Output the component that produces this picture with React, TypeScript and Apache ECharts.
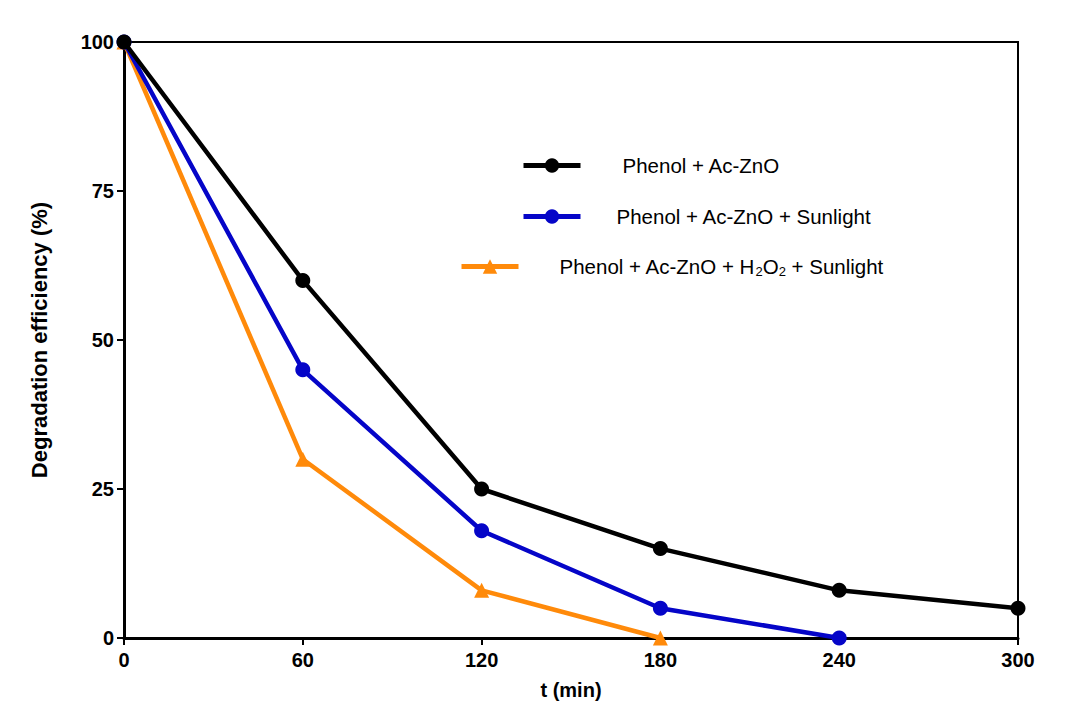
import React, { useEffect, useRef } from "react";
import * as echarts from "echarts";

const times = [0, 60, 120, 180, 240, 300];
const phenolAcZnO = [100, 60, 25, 15, 8, 5];
const phenolAcZnOSun = [100, 45, 18, 5, 0];
const phenolAcZnOH2O2Sun = [100, 30, 8, 0];
const yTicks = [0, 25, 50, 75, 100];

const names = [
  "Phenol + Ac-ZnO",
  "Phenol + Ac-ZnO + Sunlight",
  "Phenol + Ac-ZnO + H2O2 + Sunlight",
];

const BLACK = "#000000";
const BLUE = "#0505c8";
const ORANGE = "#ff8a0a";
const FONT = "'Liberation Sans', Arial, sans-serif";

export default function App() {
  const ref = useRef<HTMLDivElement>(null);
  useEffect(() => {
    const chart = echarts.init(ref.current!, null, { renderer: "svg" });
    const pair = (vals: number[]) => vals.map((v, i) => [times[i], v]);
    const legendBase = {
      itemWidth: 57,
      itemHeight: 18,
      padding: 0,
      orient: "horizontal",
      selectedMode: false,
      lineStyle: { width: 5 },
    };
    const txt = { fontFamily: FONT, fontSize: 20, color: "#000" };
    const ltxt = { fontFamily: FONT, fontSize: 20.5, color: "#000" };
    chart.setOption({
      animation: false,
      backgroundColor: "#fff",
      grid: {
        left: 124,
        right: 54,
        top: 42,
        bottom: 67,
        show: true,
        borderColor: "#000",
        borderWidth: 2,
        containLabel: false,
      },
      legend: [
        {
          ...legendBase,
          data: [names[0]],
          left: 521,
          top: 155,
          textStyle: { ...ltxt, padding: [0, 0, 0, 37] },
        },
        {
          ...legendBase,
          data: [names[1]],
          left: 521,
          top: 206,
          textStyle: { ...ltxt, padding: [0, 0, 0, 31] },
        },
        {
          ...legendBase,
          data: [names[2]],
          left: 459,
          top: 255,
          formatter: () => "{a|Phenol + Ac-ZnO + H}{s|2}{a|O}{s|2}{a| + Sunlight}",
          textStyle: {
            ...ltxt,
            padding: [0, 0, 0, 36],
            rich: {
              a: { fontFamily: FONT, fontSize: 20.5, color: "#000", lineHeight: 22 },
              s: {
                fontFamily: FONT,
                fontSize: 13,
                color: "#000",
                lineHeight: 22,
                padding: [10, 0, 0, 0],
              },
            },
          },
        },
      ],
      xAxis: {
        type: "value",
        min: 0,
        max: 300,
        interval: 60,
        name: "t (min)",
        nameLocation: "middle",
        nameGap: 42,
        nameTextStyle: { ...txt, fontWeight: "bold" },
        axisLine: { show: true, lineStyle: { color: "#000", width: 3 } },
        axisTick: { show: true, inside: false, length: 7, lineStyle: { color: "#000", width: 2 } },
        axisLabel: { ...txt, fontWeight: "bold", margin: 12 },
        splitLine: { show: false },
      },
      yAxis: {
        type: "value",
        min: 0,
        max: 100,
        interval: 25,
        name: "Degradation efficiency (%)",
        nameLocation: "middle",
        nameGap: 74,
        nameTextStyle: { ...txt, fontSize: 22, fontWeight: "bold" },
        axisLine: { show: true, lineStyle: { color: "#000", width: 3 } },
        axisTick: { show: true, inside: false, length: 7, lineStyle: { color: "#000", width: 2 } },
        axisLabel: {
          ...txt,
          fontWeight: "bold",
          margin: 10,
          formatter: (v: number) => (yTicks.includes(v) ? String(v) : ""),
        },
        splitLine: { show: false },
      },
      series: [
        {
          name: names[2],
          type: "line",
          data: pair(phenolAcZnOH2O2Sun),
          symbol: "triangle",
          symbolSize: 15,
          z: 2,
          color: ORANGE,
          lineStyle: { color: ORANGE, width: 4.5 },
          itemStyle: { color: ORANGE },
        },
        {
          name: names[1],
          type: "line",
          data: pair(phenolAcZnOSun),
          symbol: "circle",
          symbolSize: 15,
          z: 3,
          color: BLUE,
          lineStyle: { color: BLUE, width: 4.5 },
          itemStyle: { color: BLUE },
        },
        {
          name: names[0],
          type: "line",
          data: pair(phenolAcZnO),
          symbol: "circle",
          symbolSize: 15,
          z: 4,
          color: BLACK,
          lineStyle: { color: BLACK, width: 4.5 },
          itemStyle: { color: BLACK },
        },
      ],
    });
    return () => chart.dispose();
  }, []);
  return (
    <div
      ref={ref}
      style={{ position: "absolute", left: 0, top: 0, width: 1072, height: 705 }}
    />
  );
}
